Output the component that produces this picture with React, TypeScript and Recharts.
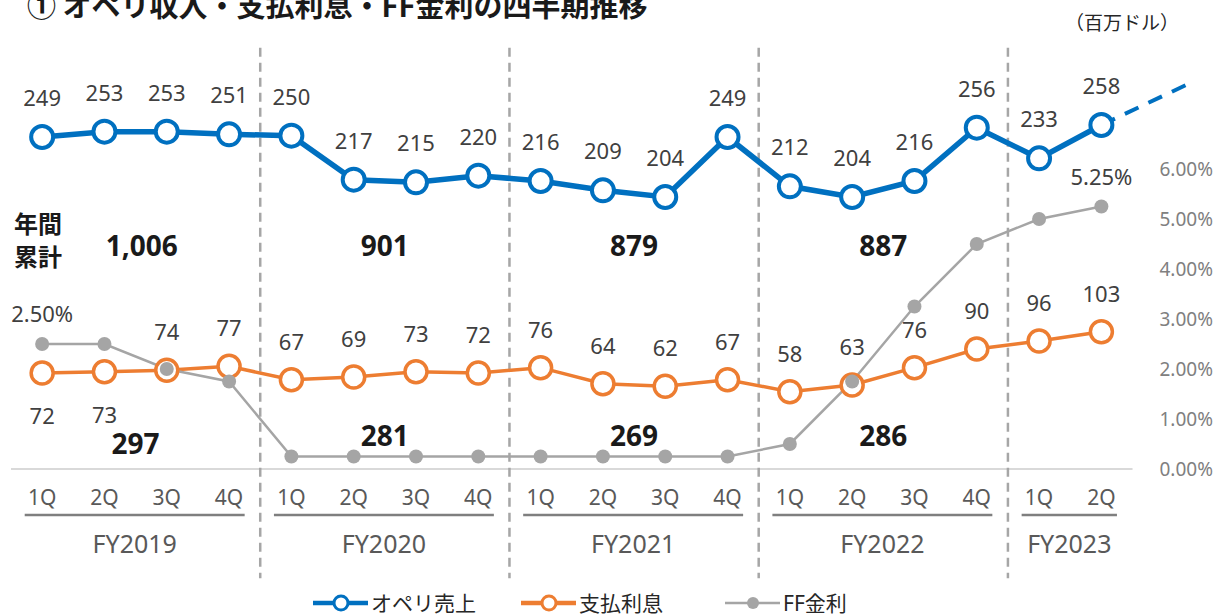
import React from "react";
import {
  ComposedChart,
  Line,
  XAxis,
  YAxis,
  ReferenceLine,
  ReferenceDot,
  LabelList,
} from "recharts";

const quarters = ["1Q", "2Q", "3Q", "4Q", "1Q", "2Q", "3Q", "4Q", "1Q", "2Q", "3Q", "4Q", "1Q", "2Q", "3Q", "4Q", "1Q", "2Q"];
const fiscalYears = ["FY2019", "FY2020", "FY2021", "FY2022", "FY2023"];
const quartersPerYear = [4, 4, 4, 4, 2];

const opLeaseRevenue = [249, 253, 253, 251, 250, 217, 215, 220, 216, 209, 204, 249, 212, 204, 216, 256, 233, 258];
const interestExpense = [72, 73, 74, 77, 67, 69, 73, 72, 76, 64, 62, 67, 58, 63, 76, 90, 96, 103];
const ffRate = [
  0.025, 0.025, 0.02, 0.0175, 0.0025, 0.0025, 0.0025, 0.0025, 0.0025, 0.0025, 0.0025, 0.0025,
  0.005, 0.0175, 0.0325, 0.045, 0.05, 0.0525,
];

const annualRevenue = ["1,006", "901", "879", "887"];
const annualInterest = ["297", "281", "269", "286"];

// dashed outlook after the last quarter
const outlookX = [17, 18.45];
const outlookValues = [258, 290];

const rateTicks = [0, 0.01, 0.02, 0.03, 0.04, 0.05, 0.06];

const BLUE = "#0070C0";
const ORANGE = "#ED7D31";
const GRAY = "#A5A5A5";
const FONT = '"Noto Sans", "Noto Sans CJK JP", sans-serif';
const JP = '"Noto Sans CJK JP", sans-serif';

const rows = quarters.map((q, i) => ({
  i,
  q,
  rev: opLeaseRevenue[i],
  int: interestExpense[i],
  ff: ffRate[i],
}));

const outlookRows = outlookX.map((x, k) => ({ i: x, v: outlookValues[k] }));

// fiscal-year groups: start/end index in quarter units
const groups = fiscalYears.map((fy, g) => {
  const start = quartersPerYear.slice(0, g).reduce((a, b) => a + b, 0);
  const end = start + quartersPerYear[g] - 1;
  const from = start - 0.28;
  const to = Math.min(end + 0.25, quarters.length - 0.5);
  return { fy, start, end, from, to, mid: (from + to) / 2 };
});

const totalX = [1.6, 5.5, 9.5, 13.5];
const revenueTotalY = [168, 168, 168, 168];
const interestTotalY = [19.5, 25.5, 25.5, 25.5];

const pos = (p: any) => ({
  x: p.x ?? p.viewBox?.x ?? 0,
  y: p.y ?? p.viewBox?.y ?? 0,
});

const makeLabel = (dy: (i: number) => number | null, fmt: (v: number) => string) => (p: any) => {
  const d = dy(p.index);
  if (d === null) return null;
  const { x, y } = pos(p);
  return (
    <text x={x} y={y + d} textAnchor="middle" dominantBaseline="central" fill="#404040" fontSize={22} fontFamily={FONT}>
      {fmt(p.value)}
    </text>
  );
};

const revenueLabel = makeLabel(() => -40, (v) => String(v));
const interestLabel = makeLabel((i) => (i < 2 ? 42 : -39), (v) => String(v));
const rateLabel = makeLabel(
  (i) => (i === 0 || i === quarters.length - 1 ? -31 : null),
  (v) => (v * 100).toFixed(2) + "%"
);

const totalShape = (text: string) => (p: any) => (
  <text x={p.cx} y={p.cy} textAnchor="middle" dominantBaseline="central" fill="#1a1a1a" fontSize={28} fontWeight={700} fontFamily={FONT}>
    {text}
  </text>
);

const LegendItem = ({ x, color, label, filled }: { x: number; color: string; label: string; filled: boolean }) => (
  <g>
    <line x1={x} x2={x + 55} y1={603} y2={603} stroke={color} strokeWidth={filled ? 2.5 : 4.5} />
    <circle cx={x + 28} cy={603} r={filled ? 6 : 7} fill={filled ? color : "#fff"} stroke={color} strokeWidth={filled ? 0 : 3} />
    <text x={x + 58} y={603} dominantBaseline="central" fontSize={21} fill="#262626" fontFamily={FONT}>
      {label}
    </text>
  </g>
);

export default function App() {
  return (
    <div
      style={{
        position: "absolute",
        left: 0,
        top: 0,
        width: 1215,
        height: 616,
        overflow: "hidden",
        background: "#fff",
        fontFamily: FONT,
      }}
    >
      <ComposedChart
        width={1226}
        height={616}
        data={rows}
        margin={{ top: 69, right: 0, bottom: 57, left: 11 }}
      >
        <XAxis
          xAxisId="b"
          dataKey="i"
          type="number"
          domain={[-0.5, 19]}
          ticks={groups.map((g) => g.mid)}
          interval={0}
          tickFormatter={(v) => groups.find((g) => g.mid === v)?.fy ?? ""}
          height={50}
          tickSize={0}
          tickMargin={26}
          axisLine={false}
          tickLine={false}
          tick={{ fill: "#595959", fontSize: 25 }}
        />
        <XAxis
          xAxisId="a"
          dataKey="i"
          type="number"
          domain={[-0.5, 19]}
          ticks={quarters.map((_, i) => i)}
          interval={0}
          tickFormatter={(v) => quarters[v] ?? ""}
          height={40}
          tickSize={0}
          tickMargin={21}
          axisLine={false}
          tickLine={false}
          tick={{ fill: "#595959", fontSize: 21 }}
        />
        <YAxis yAxisId="left" domain={[0, 300]} hide />
        <YAxis
          yAxisId="right"
          orientation="right"
          mirror
          domain={[0, 0.08]}
          ticks={rateTicks}
          tickFormatter={(v) => (v * 100).toFixed(2) + "%"}
          tickSize={0}
          tickMargin={13}
          axisLine={false}
          tickLine={false}
          tick={{ fill: "#808080", fontSize: 19 }}
        />

        <ReferenceLine
          xAxisId="a"
          yAxisId="left"
          segment={[{ x: -0.5, y: 0 }, { x: quarters.length - 0.5, y: 0 }]}
          stroke="#d9d9d9"
          strokeWidth={2}
          ifOverflow="visible"
        />
        {groups.slice(1).map((g) => (
          <ReferenceLine
            key={"sep" + g.fy}
            xAxisId="a"
            yAxisId="left"
            segment={[{ x: g.start - 0.5, y: 316 }, { x: g.start - 0.5, y: -82 }]}
            stroke="#a6a6a6"
            strokeWidth={2.5}
            strokeDasharray="9 6"
            ifOverflow="visible"
          />
        ))}
        {groups.map((g) => (
          <ReferenceLine
            key={"ul" + g.fy}
            xAxisId="a"
            yAxisId="left"
            segment={[{ x: g.from, y: -34.5 }, { x: g.to, y: -34.5 }]}
            stroke="#7f7f7f"
            strokeWidth={2.5}
            ifOverflow="visible"
          />
        ))}

        <Line
          xAxisId="a"
          yAxisId="left"
          data={outlookRows}
          dataKey="v"
          stroke={BLUE}
          strokeWidth={4}
          strokeDasharray="15 11"
          dot={false}
          activeDot={false}
          isAnimationActive={false}
        />
        <Line
          xAxisId="a"
          yAxisId="left"
          dataKey="rev"
          stroke={BLUE}
          strokeWidth={5.5}
          dot={{ r: 11, fill: "#fff", stroke: BLUE, strokeWidth: 4 }}
          activeDot={false}
          isAnimationActive={false}
        >
          <LabelList dataKey="rev" content={revenueLabel} />
        </Line>
        <Line
          xAxisId="a"
          yAxisId="left"
          dataKey="int"
          stroke={ORANGE}
          strokeWidth={3.5}
          dot={{ r: 11, fill: "#fff", stroke: ORANGE, strokeWidth: 3.5 }}
          activeDot={false}
          isAnimationActive={false}
        >
          <LabelList dataKey="int" content={interestLabel} />
        </Line>
        <Line
          xAxisId="a"
          yAxisId="right"
          dataKey="ff"
          stroke={GRAY}
          strokeWidth={2.5}
          dot={{ r: 7, fill: GRAY, stroke: GRAY, strokeWidth: 0 }}
          activeDot={false}
          isAnimationActive={false}
        >
          <LabelList dataKey="ff" content={rateLabel} />
        </Line>

        {annualRevenue.map((t, k) => (
          <ReferenceDot
            key={"rt" + k}
            xAxisId="a"
            yAxisId="left"
            x={totalX[k]}
            y={revenueTotalY[k]}
            r={0}
            ifOverflow="visible"
            shape={totalShape(t)}
          />
        ))}
        {annualInterest.map((t, k) => (
          <ReferenceDot
            key={"it" + k}
            xAxisId="a"
            yAxisId="left"
            x={totalX[k] - (k === 0 ? 0.1 : 0)}
            y={interestTotalY[k]}
            r={0}
            ifOverflow="visible"
            shape={totalShape(t)}
          />
        ))}
      </ComposedChart>

      <svg
        width={1215}
        height={616}
        style={{ position: "absolute", left: 0, top: 0, pointerEvents: "none" }}
      >
        <text x={27} y={17} fontSize={29} fontWeight={700} fill="#1a1a1a" fontFamily={JP}>
          ① オペリ収入・支払利息・FF金利の四半期推移
        </text>
        <text x={1122} y={21} textAnchor="middle" dominantBaseline="central" fontSize={19} fill="#262626" fontFamily={JP}>
          （百万ドル）
        </text>
        <text x={14} y={222} dominantBaseline="central" fontSize={24} fontWeight={700} fill="#1a1a1a" fontFamily={JP}>
          年間
        </text>
        <text x={14} y={255} dominantBaseline="central" fontSize={24} fontWeight={700} fill="#1a1a1a" fontFamily={JP}>
          累計
        </text>
        <LegendItem x={313} color={BLUE} label="オペリ売上" filled={false} />
        <LegendItem x={521} color={ORANGE} label="支払利息" filled={false} />
        <LegendItem x={725} color={GRAY} label="FF金利" filled={true} />
      </svg>
    </div>
  );
}
